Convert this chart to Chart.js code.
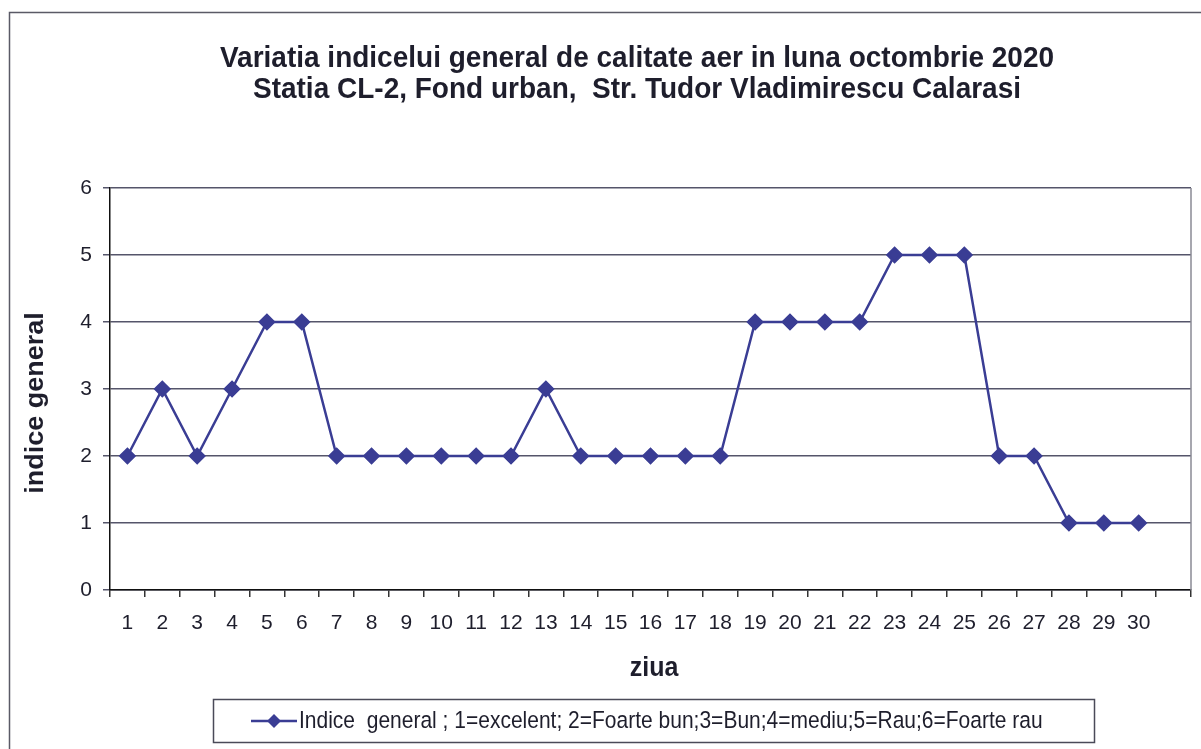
<!DOCTYPE html>
<html>
<head>
<meta charset="utf-8">
<script src="https://cdn.jsdelivr.net/npm/chart.js@4"></script>
<style>
  html, body { margin: 0; padding: 0; background: #fff; }
  #wrap { width: 1201px; height: 749px; }
</style>
</head>
<body>
<div id="wrap"><canvas id="aerChart" width="1201" height="749"></canvas></div>
<script>
// day slots (31st slot of the month left empty, no label)
const days = ['1','2','3','4','5','6','7','8','9','10','11','12','13','14','15',
              '16','17','18','19','20','21','22','23','24','25','26','27','28','29','30',''];
const indiceValues = [2, 3, 2, 3, 4, 4, 2, 2, 2, 2, 2, 2, 3, 2, 2,
                      2, 2, 2, 4, 4, 4, 4, 5, 5, 5, 2, 2, 1, 1, 1, null];
const yTicks = [0, 1, 2, 3, 4, 5, 6];

const titleLines = ['Variatia indicelui general de calitate aer in luna octombrie 2020',
                    'Statia CL-2, Fond urban,  Str. Tudor Vladimirescu Calarasi'];
const yTitle = 'indice general';
const xTitle = 'ziua';
const legendText = 'Indice  general ; 1=excelent; 2=Foarte bun;3=Bun;4=mediu;5=Rau;6=Foarte rau';

const lineColor = '#3a3d94';
const textColor = '#1e1e2c';

// text slightly taller than wide, like the scanned original
function tallText(ctx, text, x, y, sy) {
    ctx.save();
    ctx.translate(x, y);
    ctx.scale(1, sy);
    ctx.fillText(text, 0, 0);
    ctx.restore();
}

// extra drawing: page frame, plot frame, titles and the boxed legend
const decorations = {
    id: 'decorations',
    beforeDraw(chart) {
        const ctx = chart.ctx;
        ctx.save();
        ctx.fillStyle = '#fff';
        ctx.fillRect(0, 0, chart.width, chart.height);
        ctx.strokeStyle = '#5a5a66';
        ctx.lineWidth = 1.5;
        ctx.beginPath();
        ctx.moveTo(9.5, chart.height);
        ctx.lineTo(9.5, 12.5);
        ctx.lineTo(chart.width, 12.5);
        ctx.stroke();
        ctx.restore();
    },
    afterDraw(chart) {
        const ctx = chart.ctx;
        const area = chart.chartArea;
        ctx.save();

        // right edge of the plot
        ctx.strokeStyle = '#8a8a95';
        ctx.lineWidth = 1.5;
        ctx.beginPath();
        ctx.moveTo(area.right, area.top);
        ctx.lineTo(area.right, area.bottom);
        ctx.stroke();

        // title
        ctx.fillStyle = textColor;
        ctx.textAlign = 'center';
        ctx.textBaseline = 'alphabetic';
        ctx.font = 'bold 28px "Liberation Sans", Arial, sans-serif';
        tallText(ctx, titleLines[0], 637, 67, 1.05);
        tallText(ctx, titleLines[1], 637, 98, 1.05);

        // axis titles
        ctx.font = 'bold 25px "Liberation Sans", Arial, sans-serif';
        tallText(ctx, xTitle, 654, 676, 1.12);
        ctx.save();
        ctx.translate(43, 403);
        ctx.rotate(-Math.PI / 2);
        ctx.scale(1.08, 1);
        ctx.fillText(yTitle, 0, 0);
        ctx.restore();

        // legend
        ctx.strokeStyle = '#4a4a58';
        ctx.lineWidth = 1.5;
        ctx.strokeRect(213.5, 699.5, 881, 43);
        ctx.strokeStyle = lineColor;
        ctx.lineWidth = 2.5;
        ctx.beginPath();
        ctx.moveTo(251, 721);
        ctx.lineTo(297, 721);
        ctx.stroke();
        ctx.fillStyle = lineColor;
        ctx.beginPath();
        ctx.moveTo(274, 714);
        ctx.lineTo(281, 721);
        ctx.lineTo(274, 728);
        ctx.lineTo(267, 721);
        ctx.closePath();
        ctx.fill();
        ctx.fillStyle = textColor;
        ctx.textAlign = 'left';
        ctx.textBaseline = 'middle';
        ctx.font = '21px "Liberation Sans", Arial, sans-serif';
        tallText(ctx, legendText, 299, 722, 1.1);

        ctx.restore();
    }
};

document.addEventListener('DOMContentLoaded', () => {
    const ctx = document.getElementById('aerChart').getContext('2d');
    new Chart(ctx, {
        type: 'line',
        data: {
            labels: days,
            datasets: [{
                label: legendText,
                data: indiceValues,
                borderColor: lineColor,
                backgroundColor: lineColor,
                borderWidth: 2.5,
                pointStyle: 'rectRot',
                pointRadius: 7,
                pointHoverRadius: 7,
                pointBackgroundColor: lineColor,
                pointBorderColor: lineColor,
                tension: 0,
                spanGaps: false
            }]
        },
        options: {
            responsive: false,
            animation: false,
            events: [],
            layout: { padding: { top: 188, right: 10, left: 0, bottom: 0 } },
            plugins: {
                legend: { display: false },
                title: { display: false },
                tooltip: { enabled: false }
            },
            scales: {
                x: {
                    offset: true,
                    grid: {
                        offset: true,
                        drawOnChartArea: false,
                        tickLength: 7,
                        color: '#333',
                        lineWidth: 1.5
                    },
                    border: { color: '#111', width: 1.5 },
                    ticks: {
                        autoSkip: false,
                        maxRotation: 0,
                        minRotation: 0,
                        padding: 14,
                        color: textColor,
                        font: { family: '"Liberation Sans", Arial, sans-serif', size: 21 }
                    },
                    afterFit(scale) { scale.height = 159; }
                },
                y: {
                    min: 0,
                    max: 6,
                    afterBuildTicks(scale) { scale.ticks = yTicks.map(v => ({ value: v })); },
                    grid: {
                        tickLength: 7,
                        color: '#55556a',
                        lineWidth: 1.5
                    },
                    border: { color: '#111', width: 1.5 },
                    ticks: {
                        padding: 11,
                        color: textColor,
                        font: { family: '"Liberation Sans", Arial, sans-serif', size: 21 }
                    },
                    afterFit(scale) { scale.width = 110; }
                }
            }
        },
        plugins: [decorations]
    });
});
</script>
</body>
</html>
